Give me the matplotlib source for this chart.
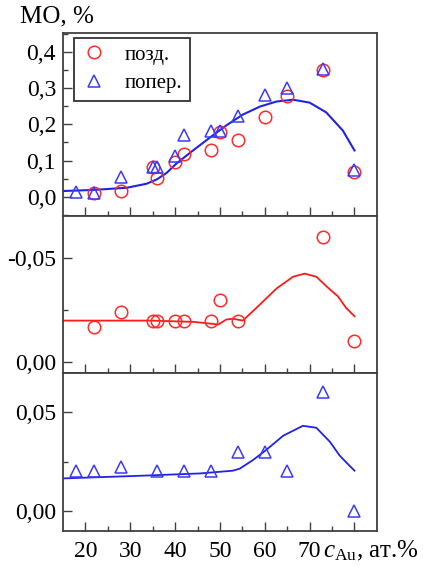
import matplotlib
matplotlib.use('Agg')
import matplotlib.pyplot as plt
from matplotlib.ticker import MultipleLocator, FixedLocator, FuncFormatter

plt.rcParams['font.family'] = ['Liberation Serif', 'DejaVu Serif']
plt.rcParams['mathtext.fontset'] = 'custom'
plt.rcParams['mathtext.rm'] = 'Liberation Serif'
plt.rcParams['mathtext.it'] = 'Liberation Serif:italic'

# top panel: MO, %
x_long_top = [22, 28, 35, 36, 40, 42, 48, 50, 54, 60, 65, 73, 80]
y_long_top = [0.010, 0.016, 0.081, 0.051, 0.096, 0.119, 0.128, 0.178, 0.158, 0.219, 0.279, 0.350, 0.069]
x_tran_top = [18, 22, 28, 35, 36, 40, 42, 48, 50, 54, 60, 65, 73, 80]
y_tran_top = [0.012, 0.010, 0.055, 0.081, 0.081, 0.112, 0.172, 0.183, 0.183, 0.224, 0.281, 0.300, 0.354, 0.075]
fit_top_x = [15.0, 21.7, 29.2, 33.6, 35.9, 38.1, 40.3, 44.0, 47.7, 51.4, 55.1, 58.9,
             62.6, 66.3, 70.0, 73.7, 77.4, 80.0]
fit_top_y = [0.016, 0.019, 0.025, 0.036, 0.048, 0.066, 0.092, 0.128, 0.163, 0.197, 0.227, 0.249,
             0.263, 0.268, 0.260, 0.233, 0.183, 0.128]

# middle panel (longitudinal)
x_long_mid = [22, 28, 35, 36, 40, 42, 48, 50, 54, 73, 80]
y_long_mid = [-0.017, -0.024, -0.020, -0.020, -0.020, -0.020, -0.020, -0.030, -0.020, -0.060, -0.010]
fit_mid_x = [15.0, 34.4, 44.0, 48.1, 49.6, 51.4, 52.9, 55.1, 58.9, 62.6, 66.3, 68.9,
             71.5, 74.5, 76.3, 78.1, 80.0]
fit_mid_y = [-0.0200, -0.0200, -0.0194, -0.0185, -0.0181, -0.0205, -0.0209, -0.0200, -0.0277,
             -0.0354, -0.0411, -0.0426, -0.0411, -0.0350, -0.0317, -0.0262, -0.0221]

# bottom panel (transverse)
x_tran_bot = [18, 22, 28, 36, 42, 48, 54, 60, 65, 73, 80]
y_tran_bot = [0.020, 0.020, 0.0225, 0.020, 0.020, 0.020, 0.030, 0.030, 0.020, 0.060, 0.000]
fit_bot_x = [15.0, 30.6, 45.5, 52.9, 54.4, 57.4, 60.4, 64.1, 68.5, 71.5, 74.5, 76.7, 78.2, 80.0]
fit_bot_y = [0.0165, 0.0177, 0.0190, 0.0204, 0.0214, 0.0258, 0.0310, 0.0380, 0.0430, 0.0420,
             0.0350, 0.0280, 0.0245, 0.0204]

x_ticks = [20, 30, 40, 50, 60, 70, 80]

RED = '#ff2a2a'
BLUE = '#3a3aff'
LRED = '#ff1a1a'
LBLUE = '#2222e6'
SPINE = '#404040'

fig = plt.figure(figsize=(4.23, 5.70), dpi=100)
L, W = 0.149, 0.742
ax1 = fig.add_axes([L, 0.621, W, 0.321])
ax2 = fig.add_axes([L, 0.346, W, 0.275])
ax3 = fig.add_axes([L, 0.068, W, 0.278])


def style(ax):
    ax.set_xlim(15, 85)
    ax.xaxis.set_major_locator(FixedLocator(x_ticks))
    ax.xaxis.set_minor_locator(FixedLocator([25, 35, 45, 55, 65, 75]))
    ax.tick_params(which='both', direction='in', top=False, right=False,
                   width=1.0, color=SPINE, labelsize=17)
    ax.tick_params(which='major', length=6.5)
    ax.tick_params(which='minor', length=3.5)
    ax.tick_params(axis='y', pad=5)
    ax.tick_params(axis='x', pad=7)
    for s in ax.spines.values():
        s.set_color(SPINE)
        s.set_linewidth(1.3)


mk = dict(linestyle='none', markersize=9, markeredgewidth=1.1, markerfacecolor='none')

# top
ax1.plot(fit_top_x, fit_top_y, color=LBLUE, lw=1.5)
ax1.plot(x_long_top, y_long_top, marker='o', markeredgecolor=RED, label='позд.', **mk)
ax1.plot(x_tran_top, y_tran_top, marker='^', markeredgecolor=BLUE, label='попер.', **mk)
ax1.set_ylim(-0.053, 0.452)
ax1.yaxis.set_major_locator(MultipleLocator(0.1))
ax1.yaxis.set_minor_locator(MultipleLocator(0.05))
ax1.yaxis.set_major_formatter(FuncFormatter(lambda v, p: ('%.1f' % v).replace('.', ',')))
style(ax1)
ax1.tick_params(axis='x', labelbottom=False)
leg = ax1.legend(loc='upper left', bbox_to_anchor=(0.035, 0.975), fontsize=15,
                 frameon=True, fancybox=False, edgecolor='black', numpoints=1,
                 handletextpad=0.9, borderpad=0.35, labelspacing=0.45, handlelength=1.2,
                 borderaxespad=0)
leg.get_frame().set_linewidth(1.3)
fig.text(0.048, 0.972, 'МО, %', fontsize=18, ha='left', va='center')

# middle
ax2.plot(fit_mid_x, fit_mid_y, color=LRED, lw=1.3)
ax2.plot(x_long_mid, y_long_mid, marker='o', markeredgecolor=RED, **mk)
ax2.set_ylim(0.0051, -0.0703)
ax2.yaxis.set_major_locator(FixedLocator([-0.05, 0.0]))
ax2.yaxis.set_minor_locator(FixedLocator([-0.025]))
ax2.yaxis.set_major_formatter(FuncFormatter(lambda v, p: ('%.2f' % v).replace('.', ',')))
style(ax2)
ax2.tick_params(axis='x', labelbottom=False)

# bottom
ax3.plot(fit_bot_x, fit_bot_y, color=LBLUE, lw=1.3)
ax3.plot(x_tran_bot, y_tran_bot, marker='^', markeredgecolor=BLUE, **mk)
ax3.set_ylim(-0.0101, 0.0697)
ax3.yaxis.set_major_locator(FixedLocator([0.0, 0.05]))
ax3.yaxis.set_minor_locator(FixedLocator([0.025]))
ax3.yaxis.set_major_formatter(FuncFormatter(lambda v, p: ('%.2f' % v).replace('.', ',')))
style(ax3)
ax3.xaxis.set_major_formatter(FuncFormatter(lambda v, p: '' if v == 80 else '%d' % v))
ax3.text(73.0, -0.168, r'$\mathit{c}_{\mathrm{Au}}$, ат.%', fontsize=18,
         transform=ax3.get_xaxis_transform(), ha='left', va='baseline', clip_on=False)

fig.savefig('out.png', dpi=100)
